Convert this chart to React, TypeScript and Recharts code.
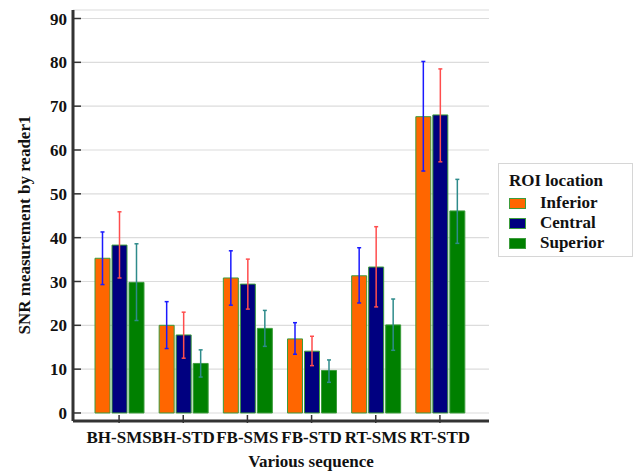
import React from 'react';
import { BarChart, Bar, XAxis, YAxis, CartesianGrid, ErrorBar, Legend } from 'recharts';

const categories = ['BH-SMS', 'BH-STD', 'FB-SMS', 'FB-STD', 'RT-SMS', 'RT-STD'];
const seriesNames = ['Inferior', 'Central', 'Superior'];
const inferior = [35.3, 20.0, 30.8, 16.9, 31.3, 67.6];
const infLow = [29.3, 14.7, 24.6, 13.4, 25.1, 55.2];
const infHigh = [41.3, 25.4, 37.0, 20.6, 37.7, 80.2];
const central = [38.3, 17.8, 29.4, 14.1, 33.3, 68.0];
const cenLow = [30.8, 12.5, 23.7, 10.8, 24.2, 57.3];
const cenHigh = [45.9, 23.0, 35.1, 17.5, 42.5, 78.5];
const superior = [29.8, 11.3, 19.3, 9.7, 20.1, 46.1];
const supLow = [21.1, 8.2, 15.2, 7.0, 14.3, 38.7];
const supHigh = [38.6, 14.4, 23.4, 12.1, 26.0, 53.3];

const majorTicks = [0, 10, 20, 30, 40, 50, 60, 70, 80, 90];
const minorTicks = [5, 15, 25, 35, 45, 55, 65, 75, 85];
const yDomain = [-1.83, 91.94];

const data = categories.map((c, i) => ({
  name: c,
  Inferior: inferior[i],
  infErr: [inferior[i] - infLow[i], infHigh[i] - inferior[i]],
  Central: central[i],
  cenErr: [central[i] - cenLow[i], cenHigh[i] - central[i]],
  Superior: superior[i],
  supErr: [superior[i] - supLow[i], supHigh[i] - superior[i]],
}));

const FONT = 'Liberation Serif, DejaVu Serif, serif';
const AXIS = '#333333';
const txt = { fontFamily: FONT, fontWeight: 700 };

const YTick = (props: any) => {
  const { x, y, payload } = props;
  const ax = x + 6;
  return (
    <g>
      <line x1={ax} x2={ax + 8} y1={y} y2={y} stroke={AXIS} strokeWidth={1.5} />
      <text x={x} y={y} dy="0.36em" textAnchor="end" style={{ ...txt, fontSize: 17 }} fill="#111">
        {payload.value}
      </text>
    </g>
  );
};

const MinorTick = (props: any) => {
  const { x, y } = props;
  return <line x1={x} x2={x + 5} y1={y} y2={y} stroke={AXIS} strokeWidth={1.5} />;
};

const XTick = (props: any) => {
  const { x, y, payload } = props;
  return (
    <g>
      <line x1={x} x2={x} y1={y} y2={y - 8} stroke={AXIS} strokeWidth={1.5} />
      <text x={x} y={y + 20} textAnchor="middle" style={{ ...txt, fontSize: 17 }} fill="#111">
        {payload.value}
      </text>
    </g>
  );
};

const LegendContent = (props: any) => {
  const payload = props.payload || [];
  const items = seriesNames.map((n) => payload.find((p: any) => p.value === n)).filter(Boolean);
  return (
    <div
      style={{
        width: 135,
        height: 94,
        boxSizing: 'border-box',
        border: '1px solid #d6d6d6',
        background: '#fff',
        ...txt,
        color: '#111',
        position: 'relative',
      }}
    >
      <div style={{ position: 'absolute', left: 10, top: 7, fontSize: 17, lineHeight: '20px', whiteSpace: 'nowrap' }}>ROI location</div>
      {items.map((p: any, i: number) => (
        <div key={p.value} style={{ position: 'absolute', left: 10, top: 29 + i * 20, height: 20, display: 'flex', alignItems: 'center' }}>
          <span style={{ display: 'inline-block', width: 17, height: 11, background: p.color, border: '1px solid #3c9c3c', boxSizing: 'border-box' }} />
          <span style={{ marginLeft: 14, fontSize: 17, lineHeight: '20px' }}>{p.value}</span>
        </div>
      ))}
    </div>
  );
};

export default function App() {
  return (
    <div style={{ position: 'absolute', left: 0, top: 0, width: 633, height: 472, background: '#fff' }}>
      <BarChart
        width={633}
        height={472}
        data={data}
        margin={{ top: 10, right: 144, bottom: 0, left: 13 }}
        barCategoryGap={8}
        barGap={2}
      >
        <CartesianGrid vertical={false} stroke="#dcdcdc" strokeWidth={1.2} />
        <XAxis
          dataKey="name"
          padding={{ left: 14, right: 17 }}
          height={51}
          tickSize={0}
          tickLine={false}
          tick={<XTick />}
          axisLine={{ stroke: AXIS, strokeWidth: 3 }}
          interval={0}
          label={{
            content: () => (
              <text x={311} y={467} textAnchor="middle" style={{ ...txt, fontSize: 17 }} fill="#111">
                Various sequence
              </text>
            ),
          }}
        />
        <YAxis
          yAxisId="minor"
          width={0}
          domain={yDomain}
          ticks={minorTicks}
          interval={0}
          allowDataOverflow
          tickSize={0}
          tickMargin={0}
          tickLine={false}
          tick={<MinorTick />}
          axisLine={false}
        />
        <YAxis
          width={60}
          domain={yDomain}
          ticks={majorTicks}
          interval={0}
          allowDataOverflow
          tickSize={0}
          tickMargin={6}
          tickLine={false}
          tick={<YTick />}
          axisLine={{ stroke: AXIS, strokeWidth: 3 }}
          label={{
            content: () => (
              <text
                x={30}
                y={225}
                transform="rotate(-90 30 225)"
                textAnchor="middle"
                style={{ ...txt, fontSize: 17 }}
                fill="#111"
              >
                SNR measurement by reader1
              </text>
            ),
          }}
        />
        <Legend
          layout="horizontal"
          verticalAlign="middle"
          align="center"
          wrapperStyle={{ left: 498, top: 163, width: 135, height: 94 }}
          content={<LegendContent />}
        />
        <Bar dataKey="Inferior" fill="#ff6600" stroke="#3c9c3c" strokeWidth={1} isAnimationActive={false}>
          <ErrorBar dataKey="infErr" stroke="#1a1aff" strokeWidth={1.5} width={2} direction="y" />
        </Bar>
        <Bar dataKey="Central" fill="#000080" stroke="#3c9c3c" strokeWidth={1} isAnimationActive={false}>
          <ErrorBar dataKey="cenErr" stroke="#ff4d4d" strokeWidth={1.5} width={2} direction="y" />
        </Bar>
        <Bar dataKey="Superior" fill="#008000" stroke="#3c9c3c" strokeWidth={1} isAnimationActive={false}>
          <ErrorBar dataKey="supErr" stroke="#2e8b8b" strokeWidth={1.5} width={2} direction="y" />
        </Bar>
      </BarChart>
    </div>
  );
}
